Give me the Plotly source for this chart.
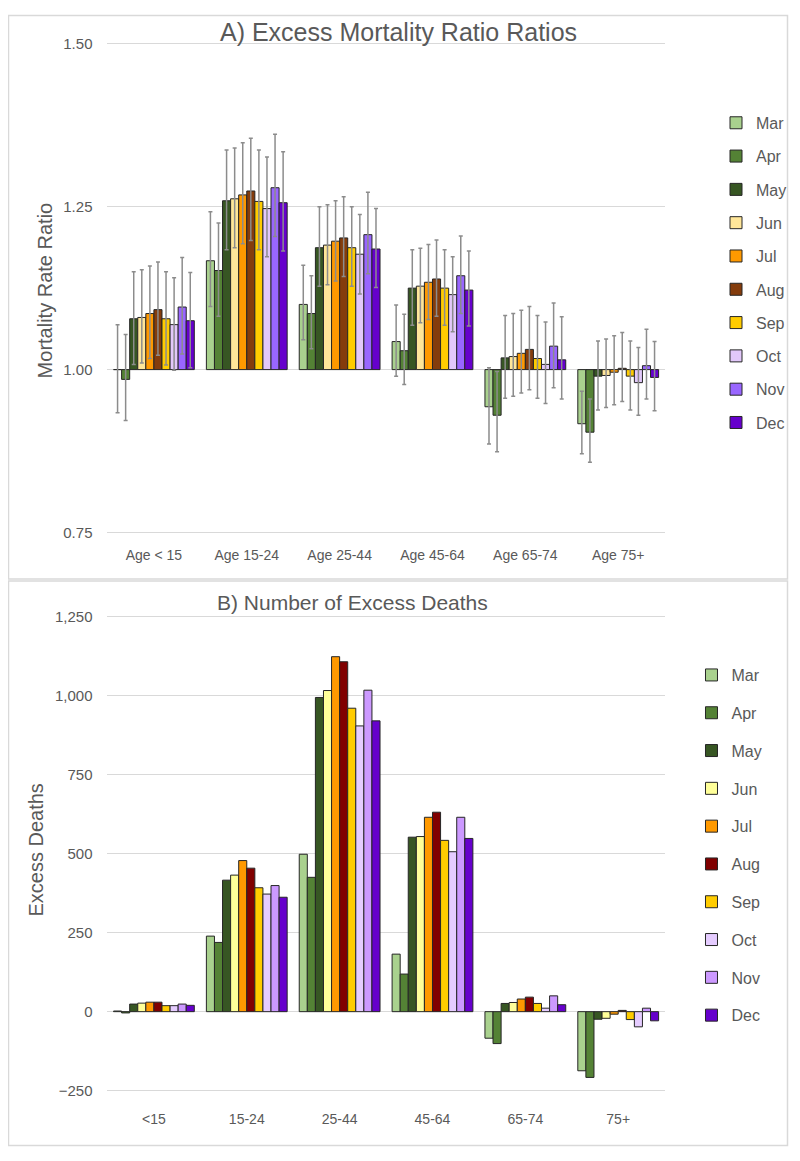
import plotly.graph_objects as go

# the page keeps the browser's default 8px body margin, so the figure is drawn
# 16px smaller and every position below is given in page pixels
PAGE_W, PAGE_H = 800, 1161
PAD = 8
W, H = PAGE_W - 2 * PAD, PAGE_H - 2 * PAD

months = ["Mar", "Apr", "May", "Jun", "Jul", "Aug", "Sep", "Oct", "Nov", "Dec"]
age_a = ["Age < 15", "Age 15-24", "Age 25-44", "Age 45-64", "Age 65-74", "Age 75+"]
age_b = ["<15", "15-24", "25-44", "45-64", "65-74", "75+"]

# A) mortality rate ratios, one list per month (age groups in order)
ratio = {
    "Mar": [1.000, 1.167, 1.100, 1.043, 0.943, 0.917],
    "Apr": [0.985, 1.152, 1.086, 1.029, 0.930, 0.904],
    "May": [1.078, 1.259, 1.187, 1.125, 1.018, 0.990],
    "Jun": [1.080, 1.262, 1.191, 1.128, 1.020, 0.991],
    "Jul": [1.086, 1.268, 1.197, 1.134, 1.025, 0.996],
    "Aug": [1.092, 1.274, 1.202, 1.139, 1.031, 1.002],
    "Sep": [1.078, 1.258, 1.187, 1.125, 1.017, 0.990],
    "Oct": [1.069, 1.247, 1.177, 1.115, 1.008, 0.980],
    "Nov": [1.096, 1.279, 1.207, 1.144, 1.036, 1.006],
    "Dec": [1.075, 1.256, 1.185, 1.122, 1.015, 0.988],
}
ratio_hi = {
    "Mar": [1.069, 1.242, 1.160, 1.099, 1.003, 0.967],
    "Apr": [1.054, 1.225, 1.144, 1.085, 0.997, 0.955],
    "May": [1.150, 1.337, 1.250, 1.184, 1.083, 1.044],
    "Jun": [1.153, 1.340, 1.253, 1.186, 1.086, 1.047],
    "Jul": [1.159, 1.348, 1.259, 1.192, 1.091, 1.052],
    "Aug": [1.165, 1.355, 1.265, 1.199, 1.097, 1.057],
    "Sep": [1.150, 1.337, 1.250, 1.184, 1.083, 1.044],
    "Oct": [1.141, 1.326, 1.238, 1.173, 1.073, 1.034],
    "Nov": [1.172, 1.361, 1.272, 1.205, 1.102, 1.062],
    "Dec": [1.149, 1.334, 1.247, 1.182, 1.081, 1.043],
}
ratio_lo = {
    "Mar": [0.934, 1.097, 1.046, 0.990, 0.886, 0.871],
    "Apr": [0.922, 1.082, 1.032, 0.977, 0.874, 0.858],
    "May": [1.008, 1.184, 1.128, 1.068, 0.956, 0.938],
    "Jun": [1.010, 1.187, 1.130, 1.072, 0.959, 0.942],
    "Jul": [1.017, 1.193, 1.136, 1.077, 0.964, 0.946],
    "Aug": [1.022, 1.198, 1.143, 1.082, 0.969, 0.951],
    "Sep": [1.007, 1.184, 1.128, 1.068, 0.956, 0.938],
    "Oct": [0.999, 1.173, 1.116, 1.058, 0.948, 0.930],
    "Nov": [1.024, 1.204, 1.147, 1.086, 0.972, 0.955],
    "Dec": [1.003, 1.182, 1.126, 1.067, 0.955, 0.937],
}

# B) number of excess deaths
deaths = {
    "Mar": [2, 239, 498, 182, -84, -187],
    "Apr": [-4, 219, 425, 119, -101, -208],
    "May": [24, 416, 994, 552, 26, -24],
    "Jun": [27, 432, 1016, 554, 29, -21],
    "Jul": [30, 478, 1123, 615, 40, -8],
    "Aug": [30, 454, 1107, 631, 46, 4],
    "Sep": [19, 392, 960, 542, 26, -25],
    "Oct": [19, 372, 904, 506, 11, -48],
    "Nov": [24, 399, 1017, 615, 50, 11],
    "Dec": [20, 362, 920, 548, 22, -29],
}

colors_a = ["#a9d18e", "#548235", "#375623", "#ffe699", "#ff9900",
            "#843c0c", "#ffcc00", "#e2c8fa", "#9966ff", "#6600cc"]
colors_b = ["#a9d18e", "#548235", "#375623", "#ffff99", "#ff9900",
            "#800000", "#ffcc00", "#e5ccff", "#cc99ff", "#6600cc"]

GREY = "#595959"
FONT = "Liberation Sans, Arial, sans-serif"


def px_x(x):
    return (x - PAD) / W


def px_y(y):
    return 1 - (y - PAD) / H


fig = go.Figure()

for i, m in enumerate(months):
    fig.add_trace(go.Bar(
        x=age_a,
        y=[v - 1 for v in ratio[m]],
        base=1,
        name=m,
        marker=dict(color=colors_a[i], line=dict(color="#262626", width=1)),
        error_y=dict(type="data", symmetric=False,
                     array=[h - v for h, v in zip(ratio_hi[m], ratio[m])],
                     arrayminus=[v - l for v, l in zip(ratio[m], ratio_lo[m])],
                     color="#8c8c8c", thickness=1.5, width=2),
        xaxis="x", yaxis="y", legend="legend", legendgroup="a" + m,
    ))

for i, m in enumerate(months):
    fig.add_trace(go.Bar(
        x=age_b,
        y=deaths[m],
        name=m,
        marker=dict(color=colors_b[i], line=dict(color="#262626", width=1)),
        xaxis="x2", yaxis="y2", legend="legend2", legendgroup="b" + m,
    ))

xtick = dict(showline=False, ticks="", tickfont=dict(size=14, color=GREY, family=FONT))
ytick = dict(showline=False, ticks="", tickfont=dict(size=15, color=GREY, family=FONT))

# ranges padded by ~2px so the gridlines at the ends are still drawn
fig.update_layout(
    width=W, height=H,
    margin=dict(l=0, r=0, t=0, b=0),
    paper_bgcolor="white", plot_bgcolor="white",
    font=dict(family=FONT, color=GREY),
    barmode="group", bargap=0.13, bargroupgap=0,
    xaxis=dict(domain=[px_x(108), px_x(668)], anchor="y", showgrid=False,
               ticklabelstandoff=11, **xtick),
    yaxis=dict(domain=[px_y(533.65), px_y(35.35)], anchor="x", range=[0.7475, 1.5025],
               tickvals=[0.75, 1.0, 1.25, 1.5], tickformat=".2f",
               showgrid=True, gridcolor="#d9d9d9", gridwidth=1, zeroline=False,
               ticklabelstandoff=14, **ytick),
    xaxis2=dict(domain=[px_x(108), px_x(668)], anchor="y2", showgrid=False,
                ticklabelstandoff=16, **xtick),
    yaxis2=dict(domain=[px_y(1098.92), px_y(615.08)], anchor="x2", range=[-256, 1256],
                tickvals=[-250, 0, 250, 500, 750, 1000, 1250], tickformat=",",
                showgrid=True, gridcolor="#d9d9d9", gridwidth=1,
                zeroline=True, zerolinecolor="#d9d9d9", zerolinewidth=1,
                ticklabelstandoff=14, **ytick),
    legend=dict(x=px_x(720), y=px_y(100), xanchor="left", yanchor="top",
                font=dict(size=16, color=GREY, family=FONT),
                tracegroupgap=9.5, itemwidth=30, bgcolor="rgba(0,0,0,0)"),
    legend2=dict(x=px_x(695), y=px_y(659), xanchor="left", yanchor="top",
                 font=dict(size=16, color=GREY, family=FONT),
                 tracegroupgap=14, itemwidth=30, bgcolor="rgba(0,0,0,0)"),
    showlegend=True,
)

# panel frames (kept inside the figure area)
for y0, y1 in [(8.5, 579), (581, 1152.5)]:
    fig.add_shape(type="rect", xref="paper", yref="paper",
                  x0=px_x(8.5), x1=px_x(791.5), y0=px_y(y1), y1=px_y(y0),
                  line=dict(color="#d9d9d9", width=1.5), fillcolor="rgba(0,0,0,0)")

labels = [
    ("A) Excess Mortality Ratio Ratios", 400, 25, 25, 0),
    ("B) Number of Excess Deaths", 354, 603, 21, 0),
    ("Mortality Rate Ratio", 45, 287, 20, -90),
    ("Excess Deaths", 36, 853, 20, -90),
]
for text, x, y, size, angle in labels:
    fig.add_annotation(text=text, x=px_x(x), y=px_y(y), xref="paper", yref="paper",
                       xanchor="center", yanchor="middle", showarrow=False,
                       textangle=angle, font=dict(size=size, color=GREY, family=FONT))

fig.write_html("out.html", config={"displayModeBar": False})
